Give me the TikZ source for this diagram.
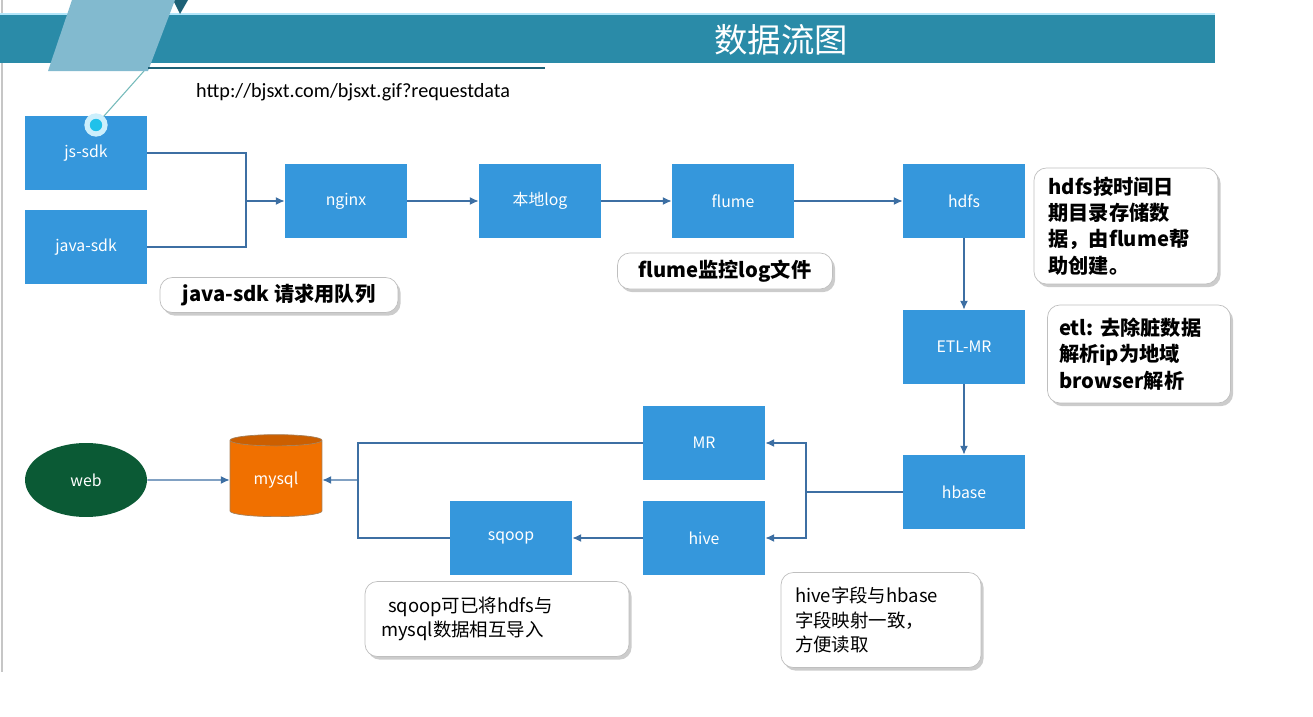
\documentclass[tikz,border=0pt]{standalone}
\usepackage{fontspec}
\setmainfont{Liberation Sans}
\newfontfamily\cjk{Noto Sans CJK SC}
\newfontfamily\urlfont{Carlito}
\usetikzlibrary{arrows.meta,shapes.geometric,shadows}
\definecolor{boxblue}{HTML}{3597DC}
\definecolor{bandteal}{HTML}{2A8BA8}
\definecolor{flapblue}{HTML}{82BACF}
\definecolor{linkblue}{HTML}{3D6FA3}
\definecolor{webgreen}{HTML}{0B5A35}
\definecolor{dborange}{HTML}{F07000}
\begin{document}
\begin{tikzpicture}[x=0.02cm,y=-0.02cm,
  box/.style={fill=boxblue,text=white,minimum width=2.44cm,minimum height=1.48cm,inner sep=0pt,font=\cjk\fontsize{9}{11}\selectfont},
  note/.style={draw=gray!50,fill=white,rounded corners=7pt,inner sep=0pt,align=left,
    drop shadow={shadow xshift=1.5pt,shadow yshift=-1.8pt,opacity=0.4},font=\cjk\bfseries\fontsize{11.5}{15}\selectfont},
  thinnote/.style={note,font=\cjk\fontsize{10.5}{14}\selectfont},
  wire/.style={draw=linkblue,line width=0.7pt},
  link/.style={wire,-{Latex[length=5pt,width=4.5pt]}}]

  \useasboundingbox (0,0) rectangle (1313,717);
  \draw[gray!45,line width=1pt] (2,0) -- (2,672);
  \fill[bandteal] (0,14) rectangle (1215,63);
  \draw[cyan!30,line width=0.6pt] (0,14) -- (1215,14);
  \fill[bandteal!70!black] (173,0) -- (188,0) -- (180,14) -- cycle;
  \fill[flapblue] (72,0) -- (175,0) -- (148,71) -- (48,71) -- cycle;
  \draw[bandteal!70!black,line width=0.8pt] (148,68) -- (545,68);
  \node[text=white,font=\cjk\fontsize{19}{22}\selectfont] (title) at (781,40) {数据流图};
  \node[anchor=west,font=\urlfont\fontsize{11.5}{13}\selectfont] (url) at (190,92) {http://bjsxt.com/bjsxt.gif?requestdata};

  \node[box] (jssdk) at (86,153) {js-sdk};
  \node[box] (javasdk) at (86,247) {java-sdk};
  \node[box] (nginx) at (346,201) {nginx};
  \node[box] (locallog) at (540,201) {本地log};
  \node[box] (flume) at (733,201) {flume};
  \node[box] (hdfs) at (964,201) {hdfs};
  \node[box] (etl) at (964,347) {ETL-MR};
  \node[box] (hbase) at (964,492) {hbase};
  \node[box] (mr) at (704,443) {MR};
  \node[box] (hive) at (704,538) {hive};
  \node[box] (sqoop) at (511,538) {sqoop};
  \node[ellipse,fill=webgreen,text=white,minimum width=2.44cm,minimum height=1.48cm,font=\cjk\fontsize{9}{11}\selectfont] (web) at (86,480) {web};
  \node[cylinder,shape border rotate=90,aspect=0.2,minimum width=1.84cm,minimum height=1.64cm,
    cylinder uses custom fill,cylinder body fill=dborange,cylinder end fill=dborange!85!black,
    draw=brown!60!gray,text=white,font=\cjk\fontsize{9}{11}\selectfont] (mysql) at (276,480) {mysql};

  \coordinate (flap) at (144,71);
  \node[circle,fill=boxblue!60!cyan,draw=cyan!20,line width=3pt,minimum size=0.36cm,inner sep=0pt] (dot) at (96,125) {};
  \draw[teal!55,line width=0.6pt] (flap) -- (dot);

  \coordinate (join) at (246,201);
  \coordinate (split) at (806,492);
  \coordinate (merge) at (358,480);
  \draw[wire] (jssdk.east) -| (join);
  \draw[wire] (javasdk.east) -| (join);
  \draw[link] (join) -- (nginx.west);
  \draw[link] (nginx) -- (locallog);
  \draw[link] (locallog) -- (flume);
  \draw[link] (flume) -- (hdfs);
  \draw[link] (hdfs) -- (etl);
  \draw[link] (etl) -- (hbase);
  \draw[wire] (hbase.west) -- (split);
  \draw[link] (split) |- (mr.east);
  \draw[link] (split) |- (hive.east);
  \draw[link] (hive) -- (sqoop);
  \draw[wire] (mr.west) -| (merge);
  \draw[wire] (sqoop.west) -| (merge);
  \draw[link] (merge) -- (mysql.east);
  \draw[link] (web) -- (mysql);

  \node[note,minimum width=4.76cm,minimum height=0.7cm] (javanote) at (279,295) {java-sdk 请求用队列};
  \node[note,minimum width=4.3cm,minimum height=0.72cm] (flumenote) at (725,271) {flume监控log文件};
  \node[note,minimum width=3.68cm,minimum height=2.32cm,text width=3.1cm] (hdfsnote) at (1126,226)
    {hdfs按时间日\\期目录存储数\\据，由flume帮\\助创建。};
  \node[note,minimum width=3.66cm,minimum height=1.96cm,text width=3.2cm] (etlnote) at (1139,354)
    {etl:~去除脏数据\\解析ip为地域\\browser解析};
  \node[thinnote,minimum width=5.28cm,minimum height=1.5cm,text width=4.64cm] (sqoopnote) at (497,619)
    {\hspace{4pt}sqoop可已将hdfs与\\mysql数据相互导入};
  \node[thinnote,minimum width=4cm,minimum height=1.9cm,text width=3.44cm] (hivenote) at (881,620)
    {hive字段与hbase\\字段映射一致，\\方便读取};
\end{tikzpicture}
\end{document}
